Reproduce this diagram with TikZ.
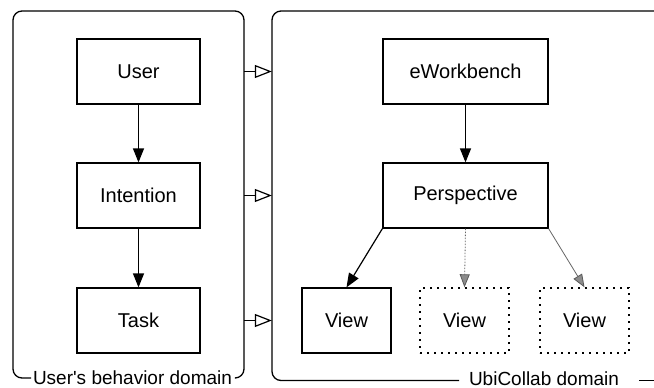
\documentclass[tikz,border=0pt]{standalone}
\usepackage{fontspec}
\setmainfont{Liberation Sans}[Ligatures=TeXOff]
\usetikzlibrary{arrows.meta}
\begin{document}
\begin{tikzpicture}[x=1pt,y=-1pt,
  box/.style={draw,line width=1.2pt,rectangle,inner sep=0pt,
    minimum width=123pt,minimum height=65pt,font=\fontsize{20}{24}\selectfont},
  pbox/.style={box,minimum width=165pt},
  vbox/.style={box,minimum width=89pt},
  ghostbox/.style={vbox,dash pattern=on 1.6pt off 5.4pt,line width=1.4pt},
  frameline/.style={line width=1.3pt,rounded corners=9pt},
  dlabel/.style={font=\fontsize{19}{22}\selectfont,inner sep=0pt},
  flow/.style={line width=1.2pt,-{Triangle[length=14pt,width=11pt]}},
  maps/.style={line width=1.2pt,-{Triangle[open,length=17pt,width=13pt,fill=white]}},
  optflow/.style={draw=black!60,line width=0.8pt,-{Triangle[length=13pt,width=10pt,fill=black!45,color=black!65]}}]
\useasboundingbox (0,0) rectangle (654,388);

% domain frames (invisible nodes give the arrows their anchors)
\node[inner sep=0pt,minimum width=231pt,minimum height=367pt] (ldom) at (128.5,194.5) {};
\node[inner sep=0pt,minimum width=400pt,minimum height=370pt] (rdom) at (472,196) {};

\draw[frameline] (31,378) -| (13,11) -| (244,378) -- (236,378);
\node[dlabel] (llab) at (132.5,378) {User's behavior domain};

\begin{scope}
  \clip (0,0) rectangle (654,388);
  \draw[frameline] (459,380.5) -| (272,11) -- (700,11);
  \draw[line width=1.3pt] (639,380.5) -- (700,380.5);
\end{scope}
\node[dlabel] (rlab) at (544,378.5) {UbiCollab domain};

% user side
\node[box] (user) at (138.5,71.5) {User};
\node[box] (intent) at (138.5,195.5) {Intention};
\node[box] (task) at (138.5,320.5) {Task};
\draw[flow] (user) -- (intent);
\draw[flow] (intent) -- (task);

% UbiCollab side
\node[pbox] (ewb) at (465.5,71.5) {eWorkbench};
\node[pbox] (persp) at (465.5,195.5) {Perspective};
\node[vbox] (v1) at (346.5,320.5) {View};
\node[ghostbox] (v2) at (464.5,320.5) {View};
\node[ghostbox] (v3) at (584.5,320.5) {View};
\draw[flow] (ewb) -- (persp);
\draw[flow] (persp.south west) -- (v1.north);
\draw[optflow,dash pattern=on 1.5pt off 1.5pt] (persp.south) -- (v2.north);
\draw[optflow] (persp.south east) -- (v3.north);

% mappings between the domains
\draw[maps] (ldom.east |- user.center) -- (rdom.west |- user.center);
\draw[maps] (ldom.east |- intent.center) -- (rdom.west |- intent.center);
\draw[maps] (ldom.east |- task.center) -- (rdom.west |- task.center);
\end{tikzpicture}
\end{document}
